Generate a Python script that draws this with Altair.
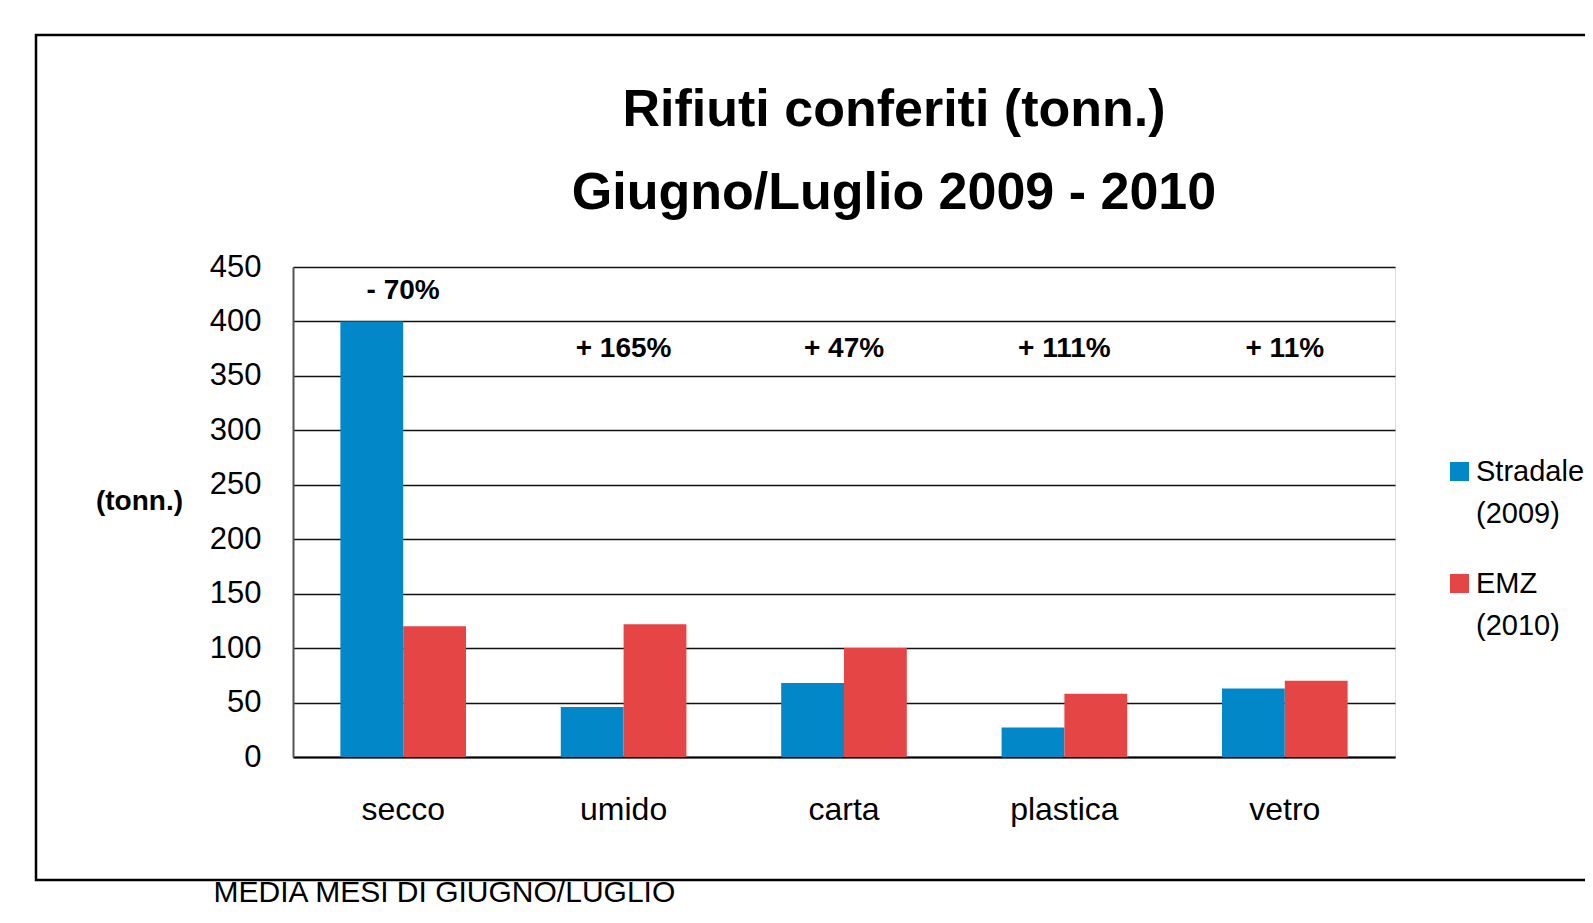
import altair as alt
import pandas as pd

# ---- data ----
categories = ["secco", "umido", "carta", "plastica", "vetro"]
series_names = ["Stradale (2009)", "EMZ (2010)"]
stradale_2009 = [400, 46, 68, 27, 63]
emz_2010 = [120, 122, 100, 58, 70]
pct_labels = ["- 70%", "+ 165%", "+ 47%", "+ 111%", "+ 11%"]
label_level = [428, 375, 375, 375, 375]
y_ticks = [0, 50, 100, 150, 200, 250, 300, 350, 400, 450]
title_lines = ["Rifiuti conferiti (tonn.)", "Giugno/Luglio 2009 - 2010"]
y_unit = "(tonn.)"
footnote = "MEDIA MESI DI GIUGNO/LUGLIO"
colors = ["#0288C9", "#E54545"]

FONT = "Liberation Sans, Arial, Helvetica, sans-serif"

rows = []
for i, c in enumerate(categories):
    rows.append({"categoria": c, "serie": series_names[0], "valore": stradale_2009[i]})
    rows.append({"categoria": c, "serie": series_names[1], "valore": emz_2010[i]})
df = pd.DataFrame(rows)
lab_df = pd.DataFrame({"categoria": categories, "etichetta": pct_labels, "livello": label_level})

x_enc = alt.X(
    "categoria:N",
    sort=categories,
    scale=alt.Scale(paddingInner=0.43, paddingOuter=0.215),
    axis=alt.Axis(
        title=footnote,
        titleFont=FONT, titleFontSize=30, titleFontWeight="normal", titleColor="black",
        titleAnchor="start", titleAlign="left", titleBaseline="alphabetic",
        titleX=-80, titleY=144,
        labelAngle=0, labelFont=FONT, labelFontSize=32, labelColor="black",
        labelPadding=37, ticks=False, grid=False,
        domain=True, domainColor="black", domainWidth=2,
    ),
)

bars = alt.Chart(df).mark_bar().encode(
    x=x_enc,
    xOffset=alt.XOffset("serie:N", sort=series_names,
                        scale=alt.Scale(paddingInner=0, paddingOuter=0)),
    y=alt.Y(
        "valore:Q",
        scale=alt.Scale(domain=[0, 450], nice=False),
        axis=alt.Axis(
            values=y_ticks, title=y_unit,
            titleAngle=0, titleX=-154, titleY=234, titleAlign="center", titleBaseline="middle",
            titleFont=FONT, titleFontSize=28, titleFontWeight="bold", titleColor="black",
            labelFont=FONT, labelFontSize=31, labelColor="black", labelPadding=32,
            ticks=False, domain=True, domainColor="#555555", domainWidth=2,
            grid=True, gridColor="#111111", gridWidth=1.5, gridOpacity=1,
        ),
    ),
    color=alt.Color(
        "serie:N", sort=series_names,
        scale=alt.Scale(domain=series_names, range=colors),
        legend=alt.Legend(
            title=None, orient="none", legendX=1152, legendY=190,
            symbolType="square", symbolSize=361, symbolStrokeWidth=0, symbolOpacity=1,
            labelFont=FONT, labelFontSize=29, labelColor="black",
            labelExpr="split(datum.label, ' ')", labelOffset=2, labelLimit=400,
            labelBaseline="middle", rowPadding=40,
        ),
    ),
)

pct = alt.Chart(lab_df).mark_text(
    font=FONT, fontSize=28, fontWeight="bold", color="black", baseline="middle"
).encode(
    x=alt.X("categoria:N", sort=categories),
    y=alt.Y("livello:Q"),
    text="etichetta:N",
)

frame = alt.Chart(pd.DataFrame({"k": [0]})).mark_rect(
    fillOpacity=0, stroke="black", strokeWidth=2.5
).encode(
    x=alt.value(-257), x2=alt.value(1340),
    y=alt.value(-232), y2=alt.value(613),
)

chart = alt.layer(frame, bars, pct).properties(
    width=1102, height=490,
    title=alt.TitleParams(
        text=title_lines, font=FONT, fontSize=52, fontWeight="bold", color="black",
        anchor="middle", frame="group", dx=50, lineHeight=83, offset=-186,
    ),
    autosize=alt.AutoSizeParams(type="none"),
    padding={"left": 285, "top": 259, "right": 190, "bottom": 151},
).configure_view(stroke=None).configure(
    background="white",
    style={"guide-label": {"lineHeight": 42}},
)

chart.save("out.html", embed_options={"renderer": "svg", "actions": False})
